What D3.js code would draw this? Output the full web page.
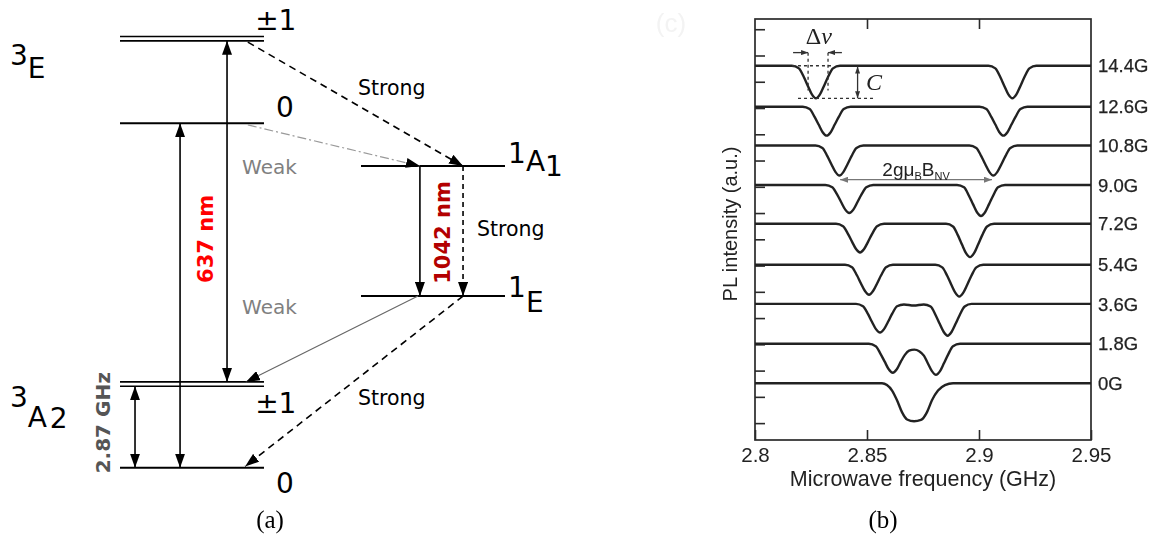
<!DOCTYPE html>
<html>
<head>
<meta charset="utf-8">
<script src="https://cdn.jsdelivr.net/npm/d3@7"></script>
<style>
  html, body { margin: 0; padding: 0; background: #fff; }
  svg { display: block; }
</style>
</head>
<body>
<svg id="fig" width="1163" height="535"></svg>
<script>
// ---------- (a) NV-centre energy levels ----------
// schematic energy of each level (not to scale)
const levelTerms   = ["3E", "3E", "1A1", "1E", "3A2", "3A2"];
const levelSpins   = ["±1", "0", "", "", "±1", "0"];
const levelEnergy  = [10, 8.03, 7.03, 4.0, 1.95, 0];
const levelColumn  = ["triplet", "triplet", "singlet", "singlet", "triplet", "triplet"];
const levelSplit   = [true, false, false, false, true, false];

const transitionLabels = ["637 nm", "1042 nm", "2.87 GHz"];
const rateLabels = ["Strong", "Weak", "Strong", "Weak", "Strong"];

// ---------- (b) ODMR spectra vs. magnetic field ----------
const fieldLabels  = ["14.4G", "12.6G", "10.8G", "9.0G", "7.2G", "5.4G", "3.6G", "1.8G", "0G"];
const traceOffsets = [13.61, 12.05, 10.57, 9.07, 7.59, 6.03, 4.54, 3.02, 1.52];
const xTicks       = [2.8, 2.85, 2.9, 2.95];
const xTickLabels  = ["2.8", "2.85", "2.9", "2.95"];
const yTicks       = [0, 1, 2, 3, 4, 5, 6, 7, 8, 9, 10, 11, 12, 13, 14, 15];

// [frequency (GHz), PL change (a.u.)] for each field
const spec144 = [[2.80,0],[2.8165,0],[2.8196,-0.10],[2.8218,-0.43],[2.8236,-0.77],[2.8254,-1.09],[2.8272,-1.24],[2.8290,-1.09],[2.8308,-0.77],[2.8326,-0.43],[2.8348,-0.10],[2.8379,0],[2.9042,0],[2.9073,-0.10],[2.9095,-0.43],[2.9113,-0.77],[2.9131,-1.09],[2.9149,-1.24],[2.9167,-1.09],[2.9185,-0.77],[2.9203,-0.43],[2.9225,-0.10],[2.9256,0],[2.95,0]];
const spec126 = [[2.80,0],[2.8213,0],[2.8244,-0.09],[2.8266,-0.39],[2.8284,-0.68],[2.8302,-0.97],[2.8320,-1.10],[2.8338,-0.97],[2.8356,-0.68],[2.8374,-0.39],[2.8396,-0.09],[2.8427,0],[2.9002,0],[2.9033,-0.09],[2.9055,-0.39],[2.9073,-0.68],[2.9091,-0.97],[2.9109,-1.10],[2.9127,-0.97],[2.9145,-0.68],[2.9163,-0.39],[2.9185,-0.09],[2.9216,0],[2.95,0]];
const spec108 = [[2.80,0],[2.8270,0],[2.8301,-0.09],[2.8323,-0.40],[2.8341,-0.71],[2.8359,-1.00],[2.8377,-1.14],[2.8395,-1.00],[2.8413,-0.71],[2.8431,-0.40],[2.8453,-0.09],[2.8484,0],[2.8957,0],[2.8988,-0.09],[2.9010,-0.40],[2.9028,-0.71],[2.9046,-1.00],[2.9064,-1.14],[2.9082,-1.00],[2.9100,-0.71],[2.9118,-0.40],[2.9140,-0.09],[2.9171,0],[2.95,0]];
const spec090 = [[2.80,0],[2.8314,0],[2.8345,-0.09],[2.8367,-0.37],[2.8385,-0.66],[2.8403,-0.94],[2.8421,-1.07],[2.8439,-0.94],[2.8457,-0.66],[2.8475,-0.37],[2.8497,-0.09],[2.8528,0],[2.8902,0],[2.8933,-0.09],[2.8955,-0.41],[2.8973,-0.73],[2.8991,-1.04],[2.9009,-1.18],[2.9027,-1.04],[2.9045,-0.73],[2.9063,-0.41],[2.9085,-0.09],[2.9116,0],[2.95,0]];
const spec072 = [[2.80,0],[2.8362,0],[2.8393,-0.09],[2.8415,-0.38],[2.8433,-0.68],[2.8451,-0.96],[2.8469,-1.09],[2.8487,-0.96],[2.8505,-0.68],[2.8523,-0.38],[2.8545,-0.09],[2.8576,0],[2.8853,0],[2.8884,-0.10],[2.8906,-0.44],[2.8924,-0.79],[2.8942,-1.12],[2.8960,-1.27],[2.8978,-1.12],[2.8996,-0.79],[2.9014,-0.44],[2.9036,-0.10],[2.9067,0],[2.95,0]];
const spec054 = [[2.80,0],[2.8402,0],[2.8433,-0.09],[2.8455,-0.40],[2.8473,-0.71],[2.8491,-1.00],[2.8509,-1.14],[2.8527,-1.00],[2.8545,-0.71],[2.8563,-0.40],[2.8585,-0.09],[2.8616,0],[2.8805,0],[2.8836,-0.10],[2.8858,-0.42],[2.8876,-0.75],[2.8894,-1.06],[2.8912,-1.21],[2.8930,-1.06],[2.8948,-0.75],[2.8966,-0.42],[2.8988,-0.10],[2.9019,0],[2.95,0]];
const spec036 = [[2.80,0],[2.8451,0],[2.8482,-0.09],[2.8504,-0.38],[2.8522,-0.68],[2.8540,-0.96],[2.8558,-1.09],[2.8576,-0.96],[2.8594,-0.68],[2.8612,-0.38],[2.8634,-0.09],[2.8665,-0.02],[2.8709,-0.06],[2.8753,-0.02],[2.8784,-0.10],[2.8806,-0.42],[2.8824,-0.75],[2.8842,-1.06],[2.8860,-1.21],[2.8878,-1.06],[2.8896,-0.75],[2.8914,-0.42],[2.8936,-0.10],[2.8967,0],[2.95,0]];
const spec018 = [[2.80,0],[2.8508,0],[2.8539,-0.09],[2.8561,-0.39],[2.8579,-0.68],[2.8597,-0.97],[2.8615,-1.10],[2.8633,-0.97],[2.8651,-0.68],[2.8669,-0.42],[2.8688,-0.26],[2.8711,-0.22],[2.8733,-0.28],[2.8754,-0.45],[2.8772,-0.75],[2.8790,-1.04],[2.8808,-1.18],[2.8826,-1.04],[2.8844,-0.73],[2.8862,-0.41],[2.8884,-0.09],[2.8915,0],[2.95,0]];
const spec000 = [[2.80,0],[2.8567,0],[2.8589,-0.07],[2.8612,-0.28],[2.8634,-0.65],[2.8656,-1.10],[2.8679,-1.38],[2.8710,-1.45],[2.8741,-1.40],[2.8768,-1.10],[2.8790,-0.65],[2.8817,-0.28],[2.8848,-0.07],[2.8884,0],[2.95,0]];
const spectra = [spec144, spec126, spec108, spec090, spec072, spec054, spec036, spec018, spec000];

// ======================================================================
const svg = d3.select("#fig");
svg.append("rect").attr("width", 1163).attr("height", 535).attr("fill", "#fff");

const defs = svg.append("defs");
function marker(id, len, wid, color) {
  defs.append("marker")
    .attr("id", id).attr("markerUnits", "userSpaceOnUse")
    .attr("viewBox", `0 0 ${len} ${wid}`)
    .attr("refX", len).attr("refY", wid / 2)
    .attr("markerWidth", len).attr("markerHeight", wid)
    .attr("orient", "auto-start-reverse")
    .append("path").attr("d", `M0,0L${len},${wid / 2}L0,${wid}Z`).attr("fill", color);
}
marker("headA", 14, 10, "#000");
marker("headS", 7, 5, "#333");
marker("headG", 8, 6, "#777");
defs.append("filter").attr("id", "soft")
  .append("feGaussianBlur").attr("stdDeviation", 0.55);

// ---------------- panel (a) ----------------
const gA = svg.append("g").attr("font-family", "DejaVu Sans, sans-serif");
const xA = d3.scaleLinear().domain([0, 1]).range([120, 505]);
const yE = d3.scaleLinear().domain([0, 10]).range([467.7, 38.7]);
const columns = { triplet: [0, 0.374], singlet: [0.626, 1.0] };
const split = 0.05;

levelEnergy.forEach((e, i) => {
  const [c0, c1] = columns[levelColumn[i]];
  const es = levelSplit[i] ? [e + split, e - split] : [e];
  es.forEach(v => {
    gA.append("line")
      .attr("x1", xA(c0)).attr("x2", xA(c1))
      .attr("y1", yE(v)).attr("y2", yE(v))
      .attr("stroke", "#000").attr("stroke-width", levelSplit[i] ? 1.6 : 2);
  });
});

// spin sublevel labels
const spinPos = [[0.351, 10.2], [0.405, 8.17], null, null, [0.351, 1.275], [0.405, -0.59]];
levelSpins.forEach((s, i) => {
  if (!s) return;
  gA.append("text").attr("x", xA(spinPos[i][0])).attr("y", yE(spinPos[i][1]))
    .attr("font-size", 28).attr("fill", "#000").text(s);
});

// term symbols: multiplicity raised, letter lowered, optional subscript
function term(u, e, mult, letter, sub, dyL, dyS, dxS) {
  const t = gA.append("text").attr("x", xA(u)).attr("y", yE(e)).attr("font-size", 28).attr("fill", "#000");
  t.append("tspan").text(mult);
  t.append("tspan").attr("dy", dyL).text(letter);
  if (sub) t.append("tspan").attr("dx", dxS).attr("dy", dyS).text(sub);
}
term(-0.286, 9.386, "3", "E", "", 13, 0, 0);
term(1.008, 7.102, "1", "A", "1", 8, 5, 0);
term(1.008, 3.979, "1", "E", "", 15, 0, 0);
term(-0.286, 1.415, "3", "A", "2", 20, 1, 3);

// transitions
function arrow(u1, e1, u2, e2, opt) {
  const l = gA.append("line")
    .attr("x1", xA(u1)).attr("y1", yE(e1)).attr("x2", xA(u2)).attr("y2", yE(e2))
    .attr("stroke", opt.color || "#000").attr("stroke-width", opt.width || 1.6)
    .attr("marker-end", "url(#headA)");
  if (opt.dash) l.attr("stroke-dasharray", opt.dash);
  if (opt.both) l.attr("marker-start", "url(#headA)");
}
const E3A2p = levelEnergy[4], E3Ep = levelEnergy[0];
arrow(0.156, levelEnergy[5], 0.156, levelEnergy[1], { both: true });              // 637 nm (ms=0)
arrow(0.278, E3A2p + split, 0.278, E3Ep - split, { both: true });                // 637 nm (ms=±1)
arrow(0.039, levelEnergy[5], 0.039, E3A2p - split, { both: true });              // 2.87 GHz
arrow(0.332, 9.92, 0.891, levelEnergy[2], { dash: "7,5" });                       // ISC strong
arrow(0.332, 7.99, 0.779, levelEnergy[2], { dash: "9,3,2,3", color: "#9a9a9a", width: 1.2 }); // ISC weak
arrow(0.779, levelEnergy[2], 0.779, levelEnergy[3], {});                          // 1042 nm
arrow(0.891, levelEnergy[2], 0.891, levelEnergy[3], { dash: "5,4" });             // non-radiative
arrow(0.774, levelEnergy[3], 0.327, E3A2p + split, { color: "#666", width: 1.1 }); // to ±1 weak
arrow(0.891, levelEnergy[3], 0.325, levelEnergy[5] + 0.03, { dash: "7,5" });     // to 0 strong

// transition wavelength / frequency labels
function vlabel(u, e, txt, color, size) {
  gA.append("text").attr("transform", `translate(${xA(u)},${yE(e)}) rotate(-90)`)
    .attr("text-anchor", "middle").attr("font-size", size).attr("font-weight", "bold")
    .attr("fill", color).text(txt);
}
vlabel(0.2415, 5.332, transitionLabels[0], "#ff0000", 21);
vlabel(0.857, 5.482, transitionLabels[1], "#b30000", 21);
vlabel(-0.026, 1.047, transitionLabels[2], "#555555", 20);

// rate labels
const ratePos = [[0.618, 8.69], [0.317, 6.84], [0.927, 5.40], [0.317, 3.58], [0.618, 1.46]];
const rateColor = ["#000", "#808080", "#000", "#808080", "#000"];
rateLabels.forEach((r, i) => {
  gA.append("text").attr("x", xA(ratePos[i][0])).attr("y", yE(ratePos[i][1]))
    .attr("font-size", i % 2 ? 20 : 20.5).attr("fill", rateColor[i]).text(r);
});

// ---------------- panel (b) ----------------
const gB = svg.append("g").attr("font-family", "Liberation Sans, Arial, sans-serif")
  .attr("filter", "url(#soft)");
const xB = d3.scaleLinear().domain([2.8, 2.95]).range([755, 1091]);
const yB = d3.scaleLinear().domain([-0.643, 15.39]).range([440, 19]);

gB.append("g").attr("transform", `translate(0,${yB.range()[0]})`)
  .call(d3.axisBottom(xB).tickValues(xTicks).tickFormat((d, i) => xTickLabels[i])
    .tickSizeInner(-10).tickSizeOuter(0).tickPadding(7))
  .call(g => g.select(".domain").remove())
  .call(g => g.selectAll("line").attr("stroke", "#2a2a2a").attr("stroke-width", 1.6))
  .call(g => g.selectAll("text").attr("font-size", 20.5).attr("fill", "#222")
    .attr("font-family", "Liberation Sans, Arial, sans-serif"));
gB.append("g").attr("transform", `translate(0,${yB.range()[1]})`)
  .call(d3.axisTop(xB).tickValues(xTicks.slice(1, 3)).tickFormat("").tickSizeInner(-10).tickSizeOuter(0))
  .call(g => g.select(".domain").remove())
  .call(g => g.selectAll("line").attr("stroke", "#2a2a2a").attr("stroke-width", 1.6));
gB.append("g").attr("transform", `translate(${xB.range()[0]},0)`)
  .call(d3.axisLeft(yB).tickValues(yTicks).tickFormat("").tickSizeInner(-10).tickSizeOuter(0))
  .call(g => g.select(".domain").remove())
  .call(g => g.selectAll("line").attr("stroke", "#2a2a2a").attr("stroke-width", 1.6));

gB.append("rect")
  .attr("x", xB.range()[0]).attr("y", yB.range()[1])
  .attr("width", xB.range()[1] - xB.range()[0]).attr("height", yB.range()[0] - yB.range()[1])
  .attr("fill", "none").attr("stroke", "#2a2a2a").attr("stroke-width", 1.7);

const line = d3.line().curve(d3.curveMonotoneX);
spectra.forEach((s, i) => {
  gB.append("path")
    .attr("d", line(s.map(([f, v]) => [xB(f), yB(traceOffsets[i] + v)])))
    .attr("fill", "none").attr("stroke", "#222").attr("stroke-width", 2.4)
    .attr("stroke-linejoin", "round");
  gB.append("text").attr("x", xB.range()[1] + 7).attr("y", yB(traceOffsets[i]))
    .attr("dy", "0.36em").attr("font-size", 18.5).attr("fill", "#222")
    .attr("stroke", "#222").attr("stroke-width", 0.25).text(fieldLabels[i]);
});

// axis titles
gB.append("text").attr("x", xB(2.875)).attr("y", 486).attr("text-anchor", "middle")
  .attr("font-size", 21.5).attr("fill", "#222").text("Microwave frequency (GHz)");
gB.append("text").attr("transform", `translate(737,224) rotate(-90)`).attr("text-anchor", "middle")
  .attr("font-size", 20).attr("fill", "#222").text("PL intensity (a.u.)");

// linewidth / contrast annotation on the top spectrum
const base = traceOffsets[0], dip = base - 1.24;
const dash = (f1, v1, f2, v2) => gB.append("line")
  .attr("x1", xB(f1)).attr("y1", yB(v1)).attr("x2", xB(f2)).attr("y2", yB(v2))
  .attr("stroke", "#333").attr("stroke-width", 1.3).attr("stroke-dasharray", "3,3");
dash(2.8165, base, 2.8344, base);
dash(2.8192, dip, 2.8536, dip);
dash(2.8237, 14.10, 2.8237, dip + 0.3);
dash(2.8326, 14.10, 2.8326, dip + 0.3);
const sArrow = (f1, v1, f2, v2, both) => {
  const l = gB.append("line")
    .attr("x1", xB(f1)).attr("y1", yB(v1)).attr("x2", xB(f2)).attr("y2", yB(v2))
    .attr("stroke", "#333").attr("stroke-width", 1.3).attr("marker-end", "url(#headS)");
  if (both) l.attr("marker-start", "url(#headS)");
};
sArrow(2.8170, 14.11, 2.8237, 14.11);
sArrow(2.8388, 14.11, 2.8326, 14.11);
sArrow(2.8458, base - 0.03, 2.8458, dip, true);
const dn = gB.append("text").attr("x", xB(2.8285)).attr("y", yB(14.42)).attr("text-anchor", "middle")
  .attr("font-family", "Liberation Serif, serif").attr("font-size", 24).attr("fill", "#222");
dn.append("tspan").text("Δ");
dn.append("tspan").attr("font-style", "italic").text("ν");
gB.append("text").attr("x", xB(2.8496)).attr("y", yB(12.69))
  .attr("font-family", "Liberation Serif, serif").attr("font-style", "italic")
  .attr("font-size", 24).attr("fill", "#222").text("C");

// Zeeman splitting annotation
gB.append("line")
  .attr("x1", xB(2.8380)).attr("y1", yB(9.27)).attr("x2", xB(2.9058)).attr("y2", yB(9.27))
  .attr("stroke", "#777").attr("stroke-width", 1.3)
  .attr("marker-start", "url(#headG)").attr("marker-end", "url(#headG)");
const zs = gB.append("text").attr("x", xB(2.8719)).attr("y", yB(9.42)).attr("text-anchor", "middle")
  .attr("font-size", 19).attr("fill", "#222");
zs.append("tspan").text("2gμ");
zs.append("tspan").attr("font-size", 11).attr("dy", 4).text("B");
zs.append("tspan").attr("dy", -4).text("B");
zs.append("tspan").attr("font-size", 11).attr("dy", 4).text("NV");

// faint panel mark
svg.append("text").attr("x", 671).attr("y", 32).attr("text-anchor", "middle")
  .attr("font-family", "Liberation Sans, sans-serif").attr("font-size", 26)
  .attr("fill", "#f3f3f3").text("(c)");

// panel captions
svg.append("text").attr("x", 270).attr("y", 528).attr("text-anchor", "middle")
  .attr("font-family", "Liberation Serif, serif").attr("font-size", 25).text("(a)");
svg.append("text").attr("x", 883).attr("y", 528).attr("text-anchor", "middle")
  .attr("font-family", "Liberation Serif, serif").attr("font-size", 25).text("(b)");
</script>
</body>
</html>
